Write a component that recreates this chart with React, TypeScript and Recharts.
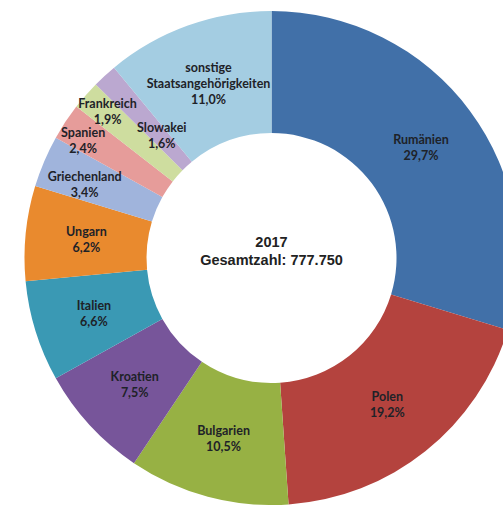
import React from "react";
import { PieChart, Pie, Cell } from "recharts";

const categories = [
  "Rumänien",
  "Polen",
  "Bulgarien",
  "Kroatien",
  "Italien",
  "Ungarn",
  "Griechenland",
  "Spanien",
  "Frankreich",
  "Slowakei",
  "sonstige\nStaatsangehörigkeiten",
];
const shares = [29.7, 19.2, 10.5, 7.5, 6.6, 6.2, 3.4, 2.4, 1.9, 1.6, 11.0];
const colors = [
  "#4170A8",
  "#B4433E",
  "#97B144",
  "#77559A",
  "#3A99B4",
  "#E98A2E",
  "#A0B4DC",
  "#E69C9A",
  "#CEDD9F",
  "#BBA8D0",
  "#A4CDE2",
];
const centerTitle = "2017";
const centerSubtitle = "Gesamtzahl: 777.750";

// label placement tweaks (style, not data): radius and angle offset
const labelTweak: Record<string, { r: number; da: number }> = {
  Griechenland: { r: 201, da: 1.4 },
  Spanien: { r: 222, da: 1.5 },
  Frankreich: { r: 220, da: -0.6 },
  Slowakei: { r: 165, da: -0.8 },
};

const data = categories.map((name, i) => ({ name, value: shares[i] }));

const RAD = Math.PI / 180;

const renderLabel = (props: any) => {
  const { cx, cy, midAngle, innerRadius, outerRadius, name, value } = props;
  const t = labelTweak[name];
  const r = t ? t.r : (innerRadius + outerRadius) / 2;
  const a = midAngle + (t ? t.da : 0);
  const x = cx + r * Math.cos(-a * RAD);
  const y = cy + r * Math.sin(-a * RAD);
  const lines = [...String(name).split("\n"), value.toFixed(1).replace(".", ",") + "%"];
  const lh = 16;
  const start = y - ((lines.length - 1) * lh) / 2;
  return (
    <text
      x={x}
      y={start}
      textAnchor="middle"
      dominantBaseline="central"
      fontFamily="Lato, 'Open Sans', sans-serif"
      fontWeight="bold"
      fontSize={12.5}
      fill="#1e2228"
    >
      {lines.map((l, i) => (
        <tspan key={i} x={x} dy={i === 0 ? 0 : lh}>
          {l}
        </tspan>
      ))}
    </text>
  );
};

export default function App() {
  return (
    <div
      style={{
        position: "absolute",
        left: 0,
        top: 0,
        width: 503,
        height: 505,
        overflow: "hidden",
        background: "#fff",
      }}
    >
      <PieChart width={503} height={505} margin={{ top: 0, right: 0, bottom: 0, left: 0 }}>
        <Pie
          data={data}
          dataKey="value"
          nameKey="name"
          cx={271.5}
          cy={258}
          innerRadius={125}
          outerRadius={247}
          startAngle={90}
          endAngle={-270}
          stroke="none"
          labelLine={false}
          label={renderLabel}
          isAnimationActive={false}
        >
          {data.map((d, i) => (
            <Cell key={d.name} fill={colors[i]} />
          ))}
        </Pie>
      </PieChart>
      <div
        style={{
          position: "absolute",
          left: 171.5,
          width: 200,
          top: 233,
          textAlign: "center",
          lineHeight: "18px",
          fontFamily: "'Liberation Sans', Arial, sans-serif",
          fontWeight: "bold",
          fontSize: 14.5,
          color: "#222",
        }}
      >
        <div>{centerTitle}</div>
        <div>{centerSubtitle}</div>
      </div>
    </div>
  );
}
